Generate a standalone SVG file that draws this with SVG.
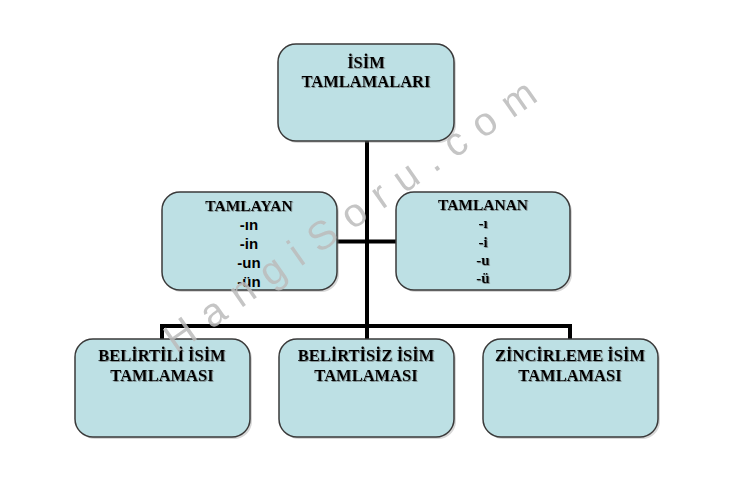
<svg xmlns="http://www.w3.org/2000/svg" width="750" height="482" viewBox="0 0 750 482">
<style>
.box{fill:#bde0e4;stroke:#3a3a3a;stroke-width:1.5}
.sh{fill:#7a7a7a;opacity:0.3}
.t{font-family:"Liberation Serif","Times New Roman",serif;font-weight:bold;fill:#000;text-anchor:middle;filter:url(#ts)}
.s{font-family:"Liberation Sans",Arial,sans-serif;font-weight:bold;fill:#000;text-anchor:middle}
.c{fill:none;stroke:#000;stroke-width:4}
.wm{font-family:"Liberation Sans",Arial,sans-serif;font-size:40px;fill:#bcbcbc;opacity:0.85;letter-spacing:14px}
</style>
<defs>
<clipPath id="clipL"><rect x="162" y="192" width="175" height="98" rx="18"/></clipPath>
<filter id="ts" x="-10%" y="-30%" width="120%" height="160%"><feDropShadow dx="0.8" dy="0.8" stdDeviation="0.6" flood-color="#555" flood-opacity="0.7"/></filter>
</defs>
<g id="connectors">
<line class="c" x1="367" y1="141" x2="367" y2="339"/>
<line class="c" x1="337" y1="241.5" x2="396" y2="241.5"/>
<polyline class="c" points="162,339 162,326 570,326 570,339"/>
</g>
<g id="root">
<rect class="sh" x="280" y="46" width="176" height="97" rx="18"/>
<rect class="box" x="278" y="44" width="176" height="97" rx="18"/>
<text class="t" x="366" y="68" font-size="16.5">İSİM</text>
<text class="t" x="366" y="87" font-size="16.5">TAMLAMALARI</text>
</g>
<g id="tamlayan">
<rect class="sh" x="164" y="194" width="175" height="98" rx="18"/>
<rect class="box" x="162" y="192" width="175" height="98" rx="18"/>
<text class="t" x="249" y="211" font-size="15.5">TAMLAYAN</text>
<g clip-path="url(#clipL)">
<text class="s" x="249" y="230" font-size="15">-ın</text>
<text class="s" x="249" y="249" font-size="15">-in</text>
<text class="s" x="249" y="268" font-size="15">-un</text>
<text class="s" x="249" y="287" font-size="15">-ün</text>
</g>
</g>
<g id="tamlanan">
<rect class="sh" x="398" y="194" width="174" height="98" rx="18"/>
<rect class="box" x="396" y="192" width="174" height="98" rx="18"/>
<text class="t" x="483" y="210" font-size="15.5">TAMLANAN</text>
<text class="t" x="483" y="228" font-size="15">-ı</text>
<text class="t" x="483" y="247" font-size="15">-i</text>
<text class="t" x="483" y="265" font-size="15">-u</text>
<text class="t" x="483" y="283" font-size="15">-ü</text>
</g>
<g id="belirtili">
<rect class="sh" x="77" y="341" width="175" height="98" rx="18"/>
<rect class="box" x="75" y="339" width="175" height="98" rx="18"/>
<text class="t" x="162" y="361" font-size="16.5">BELİRTİLİ İSİM</text>
<text class="t" x="162" y="381" font-size="16.5">TAMLAMASI</text>
</g>
<g id="belirtisiz">
<rect class="sh" x="281" y="341" width="175" height="98" rx="18"/>
<rect class="box" x="279" y="339" width="175" height="98" rx="18"/>
<text class="t" x="366" y="361" font-size="16.5">BELİRTİSİZ İSİM</text>
<text class="t" x="366" y="381" font-size="16.5">TAMLAMASI</text>
</g>
<g id="zincirleme">
<rect class="sh" x="485" y="341" width="175" height="98" rx="18"/>
<rect class="box" x="483" y="339" width="175" height="98" rx="18"/>
<text class="t" x="570" y="361" font-size="16.5">ZİNCİRLEME İSİM</text>
<text class="t" x="570" y="381" font-size="16.5">TAMLAMASI</text>
</g>
<text class="wm" transform="translate(176,354) rotate(-35)">HangiSoru.com</text>
</svg>
